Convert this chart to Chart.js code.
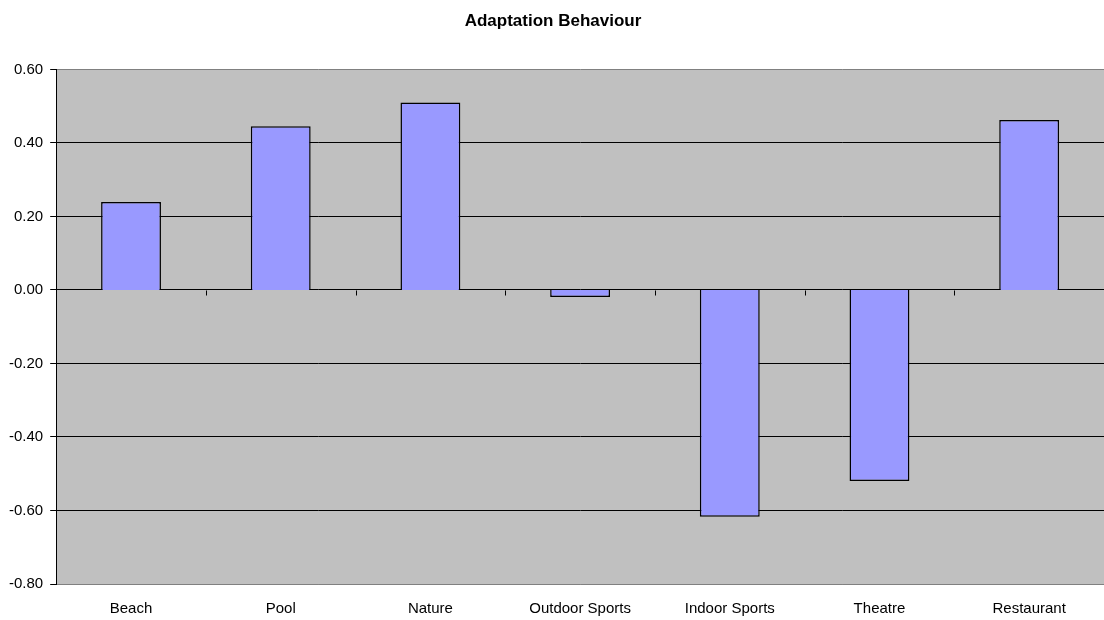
<!DOCTYPE html>
<html>
<head>
<meta charset="utf-8">
<script src="https://cdn.jsdelivr.net/npm/chart.js@4"></script>
<style>
  html, body { margin: 0; padding: 0; background: #fff; }
  #wrap { width: 1104px; height: 620px; }
</style>
</head>
<body>
<div id="wrap"><canvas id="chart" width="1104" height="620"></canvas></div>
<script>
// Данные графика
const categories = ['Beach', 'Pool', 'Nature', 'Outdoor Sports', 'Indoor Sports', 'Theatre', 'Restaurant'];
const values = [0.239, 0.445, 0.51, -0.019, -0.617, -0.52, 0.462];
const yMin = -0.8;
const yMax = 0.6;
const yStep = 0.2;

Chart.defaults.font.family = "'Liberation Sans', Arial, sans-serif";
Chart.defaults.color = '#000';

// Серый фон области построения + засечки категорий на нулевой линии
const plotArea = {
    id: 'plotArea',
    beforeDraw(chart) {
        const a = chart.chartArea;
        const c = chart.ctx;
        c.save();
        c.fillStyle = '#c0c0c0';
        c.fillRect(a.left, a.top, a.right - a.left, a.bottom - a.top);
        c.restore();
    },
    afterDatasetsDraw(chart) {
        const c = chart.ctx;
        const xs = chart.scales.x;
        const y0 = Math.round(chart.scales.y.getPixelForValue(0)) + 0.5;
        c.save();
        c.strokeStyle = '#000';
        c.lineWidth = 1;
        for (let i = 1; i < categories.length; i++) {
            const x = Math.round((xs.getPixelForTick(i - 1) + xs.getPixelForTick(i)) / 2) + 0.5;
            c.beginPath();
            c.moveTo(x, y0);
            c.lineTo(x, y0 + 5);
            c.stroke();
        }
        c.restore();
    }
};

new Chart(document.getElementById('chart'), {
    type: 'bar',
    data: {
        labels: categories,
        datasets: [{
            data: values,
            backgroundColor: '#9999ff',
            borderColor: '#000',
            borderWidth: 1.5,
            categoryPercentage: 1,
            barPercentage: 0.4
        }]
    },
    options: {
        responsive: false,
        animation: false,
        layout: { padding: { left: 2, right: 0, top: 0, bottom: -14 } },
        plugins: {
            legend: { display: false },
            tooltip: { enabled: false },
            title: {
                display: true,
                text: 'Adaptation Behaviour',
                color: '#000',
                font: { size: 17, weight: 'bold' },
                padding: { top: 11, bottom: 38 }
            }
        },
        scales: {
            x: {
                offset: true,
                grid: { display: false, drawTicks: false },
                border: { display: true, color: '#808080' },
                ticks: { font: { size: 15 }, padding: 16, maxRotation: 0 }
            },
            y: {
                min: yMin,
                max: yMax,
                grid: {
                    color: ctx => (ctx.tick && (Math.abs(ctx.tick.value - yMin) < 1e-9 || Math.abs(ctx.tick.value - yMax) < 1e-9)) ? '#808080' : '#000',
                    tickColor: '#000',
                    tickLength: 6,
                    lineWidth: 1
                },
                border: { display: true, color: '#000', width: 1 },
                ticks: {
                    stepSize: yStep,
                    font: { size: 15 },
                    padding: 7,
                    callback: v => (Math.abs(v) < 1e-9 ? 0 : v).toFixed(2)
                }
            }
        }
    },
    plugins: [plotArea]
});
</script>
</body>
</html>
